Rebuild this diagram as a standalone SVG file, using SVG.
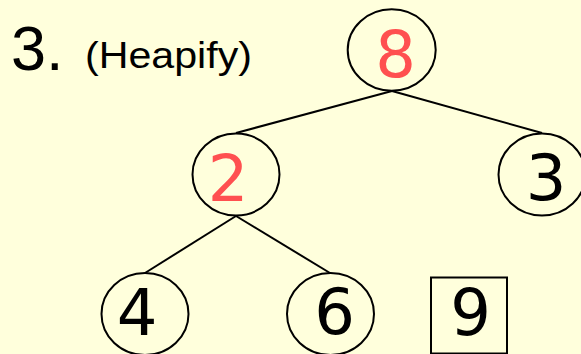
<svg xmlns="http://www.w3.org/2000/svg" width="581" height="354" viewBox="0 0 581 354">
  <style>
    .node { fill: none; stroke: #000; stroke-width: 2; }
    .edge { stroke: #000; stroke-width: 2; fill: none; }
    .num { font-family: "DejaVu Sans", sans-serif; font-size: 64px; text-anchor: middle; fill: #000; }
    .hot { fill: #ff5050; }
    .title { font-family: "Liberation Sans", Arial, sans-serif; fill: #000; }
  </style>
  <rect width="581" height="354" fill="#ffffdc"/>

  <text class="title" x="11" y="70" font-size="63">3.</text>
  <text class="title" x="85" y="68" font-size="37" textLength="167" lengthAdjust="spacingAndGlyphs">(Heapify)</text>

  <g id="edges">
    <line class="edge" x1="392" y1="91" x2="236" y2="133"/>
    <line class="edge" x1="392" y1="91" x2="542" y2="133"/>
    <line class="edge" x1="236" y1="216" x2="145" y2="273"/>
    <line class="edge" x1="236" y1="216" x2="330" y2="273"/>
  </g>

  <g id="node-8">
    <ellipse class="node" cx="391.7" cy="50" rx="44" ry="40.7"/>
    <text class="num hot" x="395.5" y="77.3">8</text>
  </g>
  <g id="node-2">
    <ellipse class="node" cx="236" cy="174.5" rx="43.5" ry="41"/>
    <text class="num hot" x="228" y="200.5">2</text>
  </g>
  <g id="node-3">
    <ellipse class="node" cx="542" cy="174.5" rx="43.5" ry="41"/>
    <text class="num" x="546" y="200">3</text>
  </g>
  <g id="node-4">
    <ellipse class="node" cx="145" cy="314" rx="43.5" ry="41"/>
    <text class="num" x="137" y="335">4</text>
  </g>
  <g id="node-6">
    <ellipse class="node" cx="330.5" cy="314" rx="43.5" ry="41"/>
    <text class="num" x="334.5" y="334">6</text>
  </g>
  <g id="node-9">
    <rect class="node" x="431" y="277.5" width="76" height="76"/>
    <text class="num" x="470.5" y="335">9</text>
  </g>
</svg>
